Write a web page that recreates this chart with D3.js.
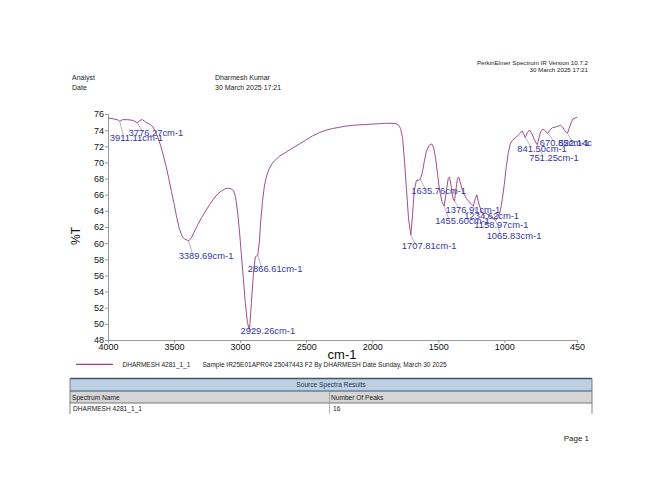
<!DOCTYPE html>
<html>
<head>
<meta charset="utf-8">
<script src="https://cdn.jsdelivr.net/npm/d3@7"></script>
<style>
  body { margin: 0; background: #fff; }
  svg { display: block; font-family: "Liberation Sans", Arial, sans-serif; }
</style>
</head>
<body>
<svg id="chart" width="650" height="502"></svg>
<script>
var wavenumbers = [4000, 3960, 3930, 3911.11, 3890, 3850, 3810, 3776.27, 3760, 3740, 3715, 3690, 3660, 3640, 3620, 3600, 3580, 3560, 3540, 3520, 3500, 3480, 3460, 3440, 3420, 3389.69, 3370, 3350, 3320, 3290, 3260, 3230, 3200, 3170, 3140, 3110, 3090, 3070, 3050, 3035, 3020, 3005, 2990, 2975, 2960, 2945, 2929.26, 2915, 2900, 2885, 2866.61, 2855, 2845, 2830, 2815, 2800, 2780, 2760, 2740, 2700, 2650, 2600, 2550, 2500, 2450, 2400, 2350, 2300, 2250, 2200, 2150, 2100, 2050, 2000, 1950, 1900, 1850, 1820, 1800, 1785, 1770, 1755, 1740, 1725, 1707.81, 1695, 1682, 1665, 1650, 1635.76, 1620, 1605, 1590, 1570, 1550, 1535, 1520, 1505, 1490, 1470, 1455.60, 1440, 1425, 1415, 1400, 1388, 1376.91, 1365, 1355, 1345, 1330, 1310, 1290, 1260, 1234.62, 1220, 1208, 1195, 1175, 1158.97, 1140, 1120, 1100, 1080, 1065.83, 1050, 1030, 1015, 1000, 985, 970, 955, 940, 920, 900, 880, 865, 850, 841.50, 825, 810, 795, 775, 760, 751.25, 740, 725, 710, 695, 685, 670.85, 655, 635, 610, 590, 575, 560, 545, 522.14, 510, 495, 480, 465, 450];
var transmittance = [75.5, 75.4, 75.3, 75.1, 75.3, 75.3, 75.2, 74.9, 75.2, 75.3, 75.0, 74.8, 74.4, 73.8, 73.0, 72.0, 70.8, 69.5, 68.0, 66.4, 64.9, 63.2, 61.8, 60.9, 60.5, 60.3, 60.6, 61.3, 62.3, 63.2, 64.0, 64.8, 65.5, 66.1, 66.5, 66.75, 66.8, 66.75, 66.5, 65.8, 64.0, 61.5, 58.5, 55.5, 52.5, 50.2, 49.2, 52.5, 56.0, 58.3, 58.5, 60.0, 62.5, 65.3, 67.2, 68.3, 69.2, 69.8, 70.2, 70.8, 71.3, 71.8, 72.3, 72.8, 73.3, 73.7, 74.0, 74.2, 74.35, 74.5, 74.6, 74.65, 74.7, 74.75, 74.8, 74.85, 74.85, 74.8, 74.6, 74.2, 73.0, 70.0, 66.5, 63.0, 61.0, 63.5, 66.5, 67.8, 67.8, 67.9, 68.8, 70.2, 71.4, 72.1, 72.3, 71.8, 70.5, 68.5, 66.5, 65.0, 64.6, 66.3, 68.0, 68.2, 66.8, 65.5, 65.2, 66.8, 68.0, 68.2, 67.3, 66.2, 65.6, 65.0, 64.6, 65.5, 66.0, 65.0, 64.0, 63.6, 63.7, 63.5, 63.2, 63.0, 62.8, 63.2, 64.0, 65.5, 67.3, 69.5, 71.2, 72.3, 72.7, 73.0, 73.3, 73.6, 73.9, 73.4, 73.1, 73.7, 74.0, 73.7, 72.9, 72.4, 72.2, 72.9, 73.8, 74.1, 74.0, 73.8, 73.6, 74.0, 74.3, 74.4, 74.5, 74.6, 74.4, 74.0, 73.6, 74.2, 74.9, 75.4, 75.5, 75.6];

var peaks = [3911.11, 3776.27, 3389.69, 2929.26, 2866.61, 1707.81, 1635.76, 1455.60, 1376.91, 1234.62, 1158.97, 1065.83, 841.50, 751.25, 670.85, 522.14];
var xTicks = [4000, 3500, 3000, 2500, 2000, 1500, 1000, 450];
var yTicks = d3.range(48, 77, 2);

var header = ["PerkinElmer Spectrum IR Version 10.7.2", "30 March 2025 17:21"];
var infoRows = [["Analyst", "Dharmesh Kumar"], ["Date", "30 March 2025 17:21"]];
var sampleName = "DHARMESH 4281_1_1";
var sampleInfo = "Sample IR25E01APR04 25047443 F2 By DHARMESH Date Sunday, March 30 2025";
var tableTitle = "Source Spectra Results";
var tableCols = ["Spectrum Name", "Number Of Peaks"];
var tableRow = [sampleName, String(peaks.length)];

// décalages des étiquettes de pics (px) par rapport au pic
var labelOffsets = [[-10, 17], [-9, 10], [-10, 15], [-9, 0], [-10, 14], [-9, 11], [-9, 11], [-9, 15], [-9, 9], [-9, 10], [-9, 11], [-9, 15], [-8, 11], [-8, 13], [-8, 9], [-9, 9]];

var svg = d3.select("#chart");
var x = d3.scaleLinear().domain([4000, 450]).range([108, 577]);
var y = d3.scaleLinear().domain([48, 76]).range([340, 114]);
var spectrum = wavenumbers.map((w, i) => ({ w: w, t: transmittance[i] }));
var tAt = w => spectrum[wavenumbers.indexOf(w)].t;

// En-tête
svg.selectAll(".hdr").data(header).join("text")
  .attr("x", 588).attr("y", (d, i) => 65 + i * 6.5)
  .attr("text-anchor", "end").attr("font-size", 6.2).attr("fill", "#222").text(d => d);
infoRows.forEach((r, i) => {
  svg.append("text").attr("x", 72).attr("y", 80 + i * 10).attr("font-size", 7).attr("fill", "#222").text(r[0]);
  svg.append("text").attr("x", 215).attr("y", 80 + i * 10).attr("font-size", 7).attr("fill", "#222").text(r[1]);
});

// Axes
var xAxis = svg.append("g").attr("transform", "translate(0,340)")
  .call(d3.axisBottom(x).tickValues(xTicks).tickSize(3).tickPadding(1).tickFormat(d3.format("d")));
var yAxis = svg.append("g").attr("transform", "translate(108,0)")
  .call(d3.axisLeft(y).tickValues(yTicks).tickSize(3).tickPadding(1).tickFormat(d3.format("d")));
[xAxis, yAxis].forEach(a => {
  a.select(".domain").attr("stroke", "#9a9a9a");
  a.selectAll(".tick line").attr("stroke", "#9a9a9a");
  a.selectAll(".tick text").attr("font-size", 9).attr("fill", "#111").attr("font-family", "inherit");
});

svg.append("text").attr("x", 342).attr("y", 359).attr("text-anchor", "middle")
  .attr("font-size", 13).attr("fill", "#111").text("cm-1");
svg.append("text").attr("transform", "translate(80,236) rotate(-90)").attr("text-anchor", "middle")
  .attr("font-size", 12).attr("fill", "#111").text("%T");

// Courbe
svg.append("path").datum(spectrum)
  .attr("fill", "none").attr("stroke", "#a25083").attr("stroke-width", 1)
  .attr("d", d3.line().x(d => x(d.w)).y(d => y(d.t)));

// Étiquettes des pics
svg.append("clipPath").attr("id", "clip").append("rect").attr("x", 0).attr("y", 0).attr("width", 592).attr("height", 502);
var lbl = svg.append("g").attr("clip-path", "url(#clip)");
peaks.forEach((p, i) => {
  var px = x(p), py = y(tAt(p));
  var tx = px + labelOffsets[i][0], ty = py + labelOffsets[i][1];
  lbl.append("line").attr("x1", px).attr("y1", py).attr("x2", tx + 14).attr("y2", ty - 1)
    .attr("stroke", "#8c7aa0").attr("stroke-width", 0.6);
  lbl.append("text").attr("x", tx).attr("y", ty + 3.2).attr("font-size", 9.4)
    .attr("fill", "#3636a8").text(d3.format(".2f")(p) + "cm-1");
});

// Légende
svg.append("line").attr("x1", 76).attr("x2", 113).attr("y1", 364.3).attr("y2", 364.3)
  .attr("stroke", "#b0407e").attr("stroke-width", 1.2);
svg.append("text").attr("x", 122.5).attr("y", 366.6).attr("font-size", 6.5).attr("fill", "#222").text(sampleName);
svg.append("text").attr("x", 202.5).attr("y", 366.6).attr("font-size", 6.5).attr("fill", "#222").text(sampleInfo);

// Tableau
var tb = svg.append("g");
tb.append("rect").attr("x", 70).attr("y", 378.5).attr("width", 522).attr("height", 12.5).attr("fill", "#bcd0e6");
tb.append("rect").attr("x", 70).attr("y", 391).attr("width", 522).attr("height", 12).attr("fill", "#d5d5d5");
tb.append("line").attr("x1", 70).attr("x2", 592).attr("y1", 378.5).attr("y2", 378.5).attr("stroke", "#44546a").attr("stroke-width", 1.5);
tb.append("line").attr("x1", 70).attr("x2", 592).attr("y1", 391).attr("y2", 391).attr("stroke", "#44546a").attr("stroke-width", 1);
tb.append("line").attr("x1", 70).attr("x2", 592).attr("y1", 403).attr("y2", 403).attr("stroke", "#777").attr("stroke-width", 1);
[70, 592].forEach(v => tb.append("line").attr("x1", v).attr("x2", v).attr("y1", 378.5).attr("y2", 414).attr("stroke", "#666").attr("stroke-width", 0.8));
tb.append("line").attr("x1", 329.5).attr("x2", 329.5).attr("y1", 391).attr("y2", 414).attr("stroke", "#888").attr("stroke-width", 0.6);
tb.append("text").attr("x", 331).attr("y", 387.3).attr("text-anchor", "middle").attr("font-size", 6.6).attr("fill", "#1f3550").text(tableTitle);
tableCols.forEach((c, i) => tb.append("text").attr("x", i ? 331 : 72).attr("y", 399.5).attr("font-size", 6.6).attr("fill", "#222").text(c));
tableRow.forEach((c, i) => tb.append("text").attr("x", i ? 333 : 73).attr("y", 411).attr("font-size", 6.6).attr("fill", "#222").text(c));

svg.append("text").attr("x", 589).attr("y", 441).attr("text-anchor", "end").attr("font-size", 8).attr("fill", "#222").text("Page 1");
</script>
</body>
</html>
